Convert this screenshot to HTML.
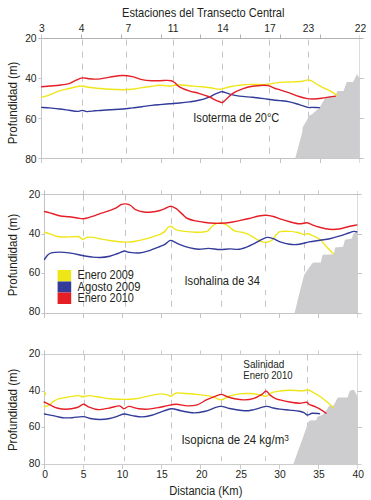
<!DOCTYPE html>
<html><head><meta charset="utf-8"><style>
html,body{margin:0;padding:0;background:#fff;width:371px;height:500px;overflow:hidden}
svg{display:block}
</style></head><body>
<svg width="371" height="500" viewBox="0 0 371 500">
<rect width="371" height="500" fill="#fff"/>
<g font-family='"Liberation Sans", sans-serif' fill="#231f20">
<line x1="38.5" y1="38.5" x2="363.5" y2="38.5" stroke="#b2b2b2" stroke-width="1"/>
<line x1="38.5" y1="158.5" x2="363.5" y2="158.5" stroke="#c2c4c4" stroke-width="1"/>
<line x1="41.5" y1="34.5" x2="41.5" y2="163.0" stroke="#c8c6c8" stroke-width="1"/>
<line x1="38.5" y1="78.50" x2="41.5" y2="78.50" stroke="#c8c6c8" stroke-width="1"/>
<line x1="359.5" y1="78.50" x2="364.0" y2="78.50" stroke="#c8c6c8" stroke-width="1"/>
<line x1="38.5" y1="118.50" x2="41.5" y2="118.50" stroke="#c8c6c8" stroke-width="1"/>
<line x1="359.5" y1="118.50" x2="364.0" y2="118.50" stroke="#c8c6c8" stroke-width="1"/>
<line x1="81.50" y1="34.5" x2="81.50" y2="38.5" stroke="#b2b2b2" stroke-width="1"/>
<line x1="81.50" y1="158.5" x2="81.50" y2="163.0" stroke="#c2c4c4" stroke-width="1"/>
<line x1="121.50" y1="34.5" x2="121.50" y2="38.5" stroke="#b2b2b2" stroke-width="1"/>
<line x1="121.50" y1="158.5" x2="121.50" y2="163.0" stroke="#c2c4c4" stroke-width="1"/>
<line x1="161.50" y1="34.5" x2="161.50" y2="38.5" stroke="#b2b2b2" stroke-width="1"/>
<line x1="161.50" y1="158.5" x2="161.50" y2="163.0" stroke="#c2c4c4" stroke-width="1"/>
<line x1="200.50" y1="34.5" x2="200.50" y2="38.5" stroke="#b2b2b2" stroke-width="1"/>
<line x1="200.50" y1="158.5" x2="200.50" y2="163.0" stroke="#c2c4c4" stroke-width="1"/>
<line x1="240.50" y1="34.5" x2="240.50" y2="38.5" stroke="#b2b2b2" stroke-width="1"/>
<line x1="240.50" y1="158.5" x2="240.50" y2="163.0" stroke="#c2c4c4" stroke-width="1"/>
<line x1="280.50" y1="34.5" x2="280.50" y2="38.5" stroke="#b2b2b2" stroke-width="1"/>
<line x1="280.50" y1="158.5" x2="280.50" y2="163.0" stroke="#c2c4c4" stroke-width="1"/>
<line x1="320.50" y1="34.5" x2="320.50" y2="38.5" stroke="#b2b2b2" stroke-width="1"/>
<line x1="320.50" y1="158.5" x2="320.50" y2="163.0" stroke="#c2c4c4" stroke-width="1"/>
<line x1="41.5" y1="194.5" x2="361.5" y2="194.5" stroke="#c4c6c6" stroke-width="1"/>
<line x1="41.5" y1="313.5" x2="361.5" y2="313.5" stroke="#c4c4c4" stroke-width="1"/>
<line x1="44.5" y1="190.5" x2="44.5" y2="318.0" stroke="#c4c2c4" stroke-width="1"/>
<line x1="41.5" y1="234.50" x2="44.5" y2="234.50" stroke="#c4c2c4" stroke-width="1"/>
<line x1="357.5" y1="234.50" x2="362.0" y2="234.50" stroke="#c4c2c4" stroke-width="1"/>
<line x1="41.5" y1="273.50" x2="44.5" y2="273.50" stroke="#c4c2c4" stroke-width="1"/>
<line x1="357.5" y1="273.50" x2="362.0" y2="273.50" stroke="#c4c2c4" stroke-width="1"/>
<line x1="83.50" y1="190.5" x2="83.50" y2="194.5" stroke="#c4c6c6" stroke-width="1"/>
<line x1="83.50" y1="313.5" x2="83.50" y2="318.0" stroke="#c4c4c4" stroke-width="1"/>
<line x1="122.50" y1="190.5" x2="122.50" y2="194.5" stroke="#c4c6c6" stroke-width="1"/>
<line x1="122.50" y1="313.5" x2="122.50" y2="318.0" stroke="#c4c4c4" stroke-width="1"/>
<line x1="161.50" y1="190.5" x2="161.50" y2="194.5" stroke="#c4c6c6" stroke-width="1"/>
<line x1="161.50" y1="313.5" x2="161.50" y2="318.0" stroke="#c4c4c4" stroke-width="1"/>
<line x1="200.50" y1="190.5" x2="200.50" y2="194.5" stroke="#c4c6c6" stroke-width="1"/>
<line x1="200.50" y1="313.5" x2="200.50" y2="318.0" stroke="#c4c4c4" stroke-width="1"/>
<line x1="240.50" y1="190.5" x2="240.50" y2="194.5" stroke="#c4c6c6" stroke-width="1"/>
<line x1="240.50" y1="313.5" x2="240.50" y2="318.0" stroke="#c4c4c4" stroke-width="1"/>
<line x1="279.50" y1="190.5" x2="279.50" y2="194.5" stroke="#c4c6c6" stroke-width="1"/>
<line x1="279.50" y1="313.5" x2="279.50" y2="318.0" stroke="#c4c4c4" stroke-width="1"/>
<line x1="318.50" y1="190.5" x2="318.50" y2="194.5" stroke="#c4c6c6" stroke-width="1"/>
<line x1="318.50" y1="313.5" x2="318.50" y2="318.0" stroke="#c4c4c4" stroke-width="1"/>
<line x1="41.5" y1="354.5" x2="361.5" y2="354.5" stroke="#cacccc" stroke-width="1"/>
<line x1="41.5" y1="464.5" x2="361.5" y2="464.5" stroke="#cccccc" stroke-width="1"/>
<line x1="44.5" y1="350.5" x2="44.5" y2="469.0" stroke="#c4c6c6" stroke-width="1"/>
<line x1="41.5" y1="391.50" x2="44.5" y2="391.50" stroke="#c4c6c6" stroke-width="1"/>
<line x1="357.5" y1="391.50" x2="362.0" y2="391.50" stroke="#c4c6c6" stroke-width="1"/>
<line x1="41.5" y1="427.50" x2="44.5" y2="427.50" stroke="#c4c6c6" stroke-width="1"/>
<line x1="357.5" y1="427.50" x2="362.0" y2="427.50" stroke="#c4c6c6" stroke-width="1"/>
<line x1="83.50" y1="350.5" x2="83.50" y2="354.5" stroke="#cacccc" stroke-width="1"/>
<line x1="83.50" y1="464.5" x2="83.50" y2="469.0" stroke="#cccccc" stroke-width="1"/>
<line x1="122.50" y1="350.5" x2="122.50" y2="354.5" stroke="#cacccc" stroke-width="1"/>
<line x1="122.50" y1="464.5" x2="122.50" y2="469.0" stroke="#cccccc" stroke-width="1"/>
<line x1="161.50" y1="350.5" x2="161.50" y2="354.5" stroke="#cacccc" stroke-width="1"/>
<line x1="161.50" y1="464.5" x2="161.50" y2="469.0" stroke="#cccccc" stroke-width="1"/>
<line x1="200.50" y1="350.5" x2="200.50" y2="354.5" stroke="#cacccc" stroke-width="1"/>
<line x1="200.50" y1="464.5" x2="200.50" y2="469.0" stroke="#cccccc" stroke-width="1"/>
<line x1="240.50" y1="350.5" x2="240.50" y2="354.5" stroke="#cacccc" stroke-width="1"/>
<line x1="240.50" y1="464.5" x2="240.50" y2="469.0" stroke="#cccccc" stroke-width="1"/>
<line x1="279.50" y1="350.5" x2="279.50" y2="354.5" stroke="#cacccc" stroke-width="1"/>
<line x1="279.50" y1="464.5" x2="279.50" y2="469.0" stroke="#cccccc" stroke-width="1"/>
<line x1="318.50" y1="350.5" x2="318.50" y2="354.5" stroke="#cacccc" stroke-width="1"/>
<line x1="318.50" y1="464.5" x2="318.50" y2="469.0" stroke="#cccccc" stroke-width="1"/>
<line x1="82.5" y1="39.6" x2="82.5" y2="153.7" stroke="#c4c4c8" stroke-width="1" stroke-dasharray="6 6"/>
<line x1="126.5" y1="39.6" x2="126.5" y2="153.7" stroke="#c4c4c8" stroke-width="1" stroke-dasharray="6 6"/>
<line x1="173.5" y1="39.6" x2="173.5" y2="153.7" stroke="#c4c4c8" stroke-width="1" stroke-dasharray="6 6"/>
<line x1="222.5" y1="39.6" x2="222.5" y2="153.7" stroke="#c4c4c8" stroke-width="1" stroke-dasharray="6 6"/>
<line x1="269.5" y1="39.6" x2="269.5" y2="153.7" stroke="#c4c4c8" stroke-width="1" stroke-dasharray="6 6"/>
<line x1="308.5" y1="39.6" x2="308.5" y2="153.7" stroke="#c4c4c8" stroke-width="1" stroke-dasharray="6 6"/>
<line x1="83.5" y1="194.6" x2="83.5" y2="307.0" stroke="#c4c4c8" stroke-width="1" stroke-dasharray="6 5.8"/>
<line x1="125.5" y1="194.6" x2="125.5" y2="307.0" stroke="#c4c4c8" stroke-width="1" stroke-dasharray="6 5.8"/>
<line x1="171.5" y1="194.6" x2="171.5" y2="307.0" stroke="#c4c4c8" stroke-width="1" stroke-dasharray="6 5.8"/>
<line x1="221.5" y1="194.6" x2="221.5" y2="307.0" stroke="#c4c4c8" stroke-width="1" stroke-dasharray="6 5.8"/>
<line x1="265.5" y1="194.6" x2="265.5" y2="307.0" stroke="#c4c4c8" stroke-width="1" stroke-dasharray="6 5.8"/>
<line x1="304.5" y1="194.6" x2="304.5" y2="307.0" stroke="#c4c4c8" stroke-width="1" stroke-dasharray="6 5.8"/>
<line x1="84.5" y1="354.6" x2="84.5" y2="461.0" stroke="#c4c4c8" stroke-width="1" stroke-dasharray="6 5.3"/>
<line x1="124.5" y1="354.6" x2="124.5" y2="461.0" stroke="#c4c4c8" stroke-width="1" stroke-dasharray="6 5.3"/>
<line x1="171.5" y1="354.6" x2="171.5" y2="461.0" stroke="#c4c4c8" stroke-width="1" stroke-dasharray="6 5.3"/>
<line x1="221.5" y1="354.6" x2="221.5" y2="461.0" stroke="#c4c4c8" stroke-width="1" stroke-dasharray="6 5.3"/>
<line x1="265.5" y1="354.6" x2="265.5" y2="461.0" stroke="#c4c4c8" stroke-width="1" stroke-dasharray="6 5.3"/>
<line x1="307.5" y1="354.6" x2="307.5" y2="461.0" stroke="#c4c4c8" stroke-width="1" stroke-dasharray="6 5.3"/>
<rect x="191" y="106" width="91" height="20" fill="#fff"/>
<rect x="182" y="272.5" width="86" height="17.5" fill="#fff"/>
<rect x="180" y="431" width="110" height="21.5" fill="#fff"/>
<polygon points="295.2,158.5 302.2,132.5 302.8,127.1 306.6,120.7 309.2,115.6 312,114.2 319.5,107.7 324.9,98.3 329.2,96.2 335.6,95.6 337.4,90.9 343.6,90.9 346.8,82.0 353.2,82.0 357.0,73.9 359.5,78.6 359.5,158.5" fill="#cdcdcf"/>
<polygon points="294.5,313.5 299.2,294 302.3,282.1 304.2,274.8 306.6,271.2 312.1,263.6 313.8,262.5 320.8,262.5 322.6,254.8 333.8,254.2 335.2,247.4 343.1,246.8 345.0,239.8 351.8,238.6 353.5,233.4 356,232.5 357.5,232.5 357.5,313.5" fill="#cdcdcf"/>
<polygon points="293.2,464.5 308.7,421.4 309.8,420.6 316.3,420.3 317.3,417.0 322.7,414.6 327.0,409.5 329.2,405.8 333.5,405.8 337.8,397.6 347.5,397.6 349.7,391.2 352.3,389.7 354.4,390.5 357.5,396.6 357.5,464.5" fill="#cdcdcf"/>
<line x1="359.5" y1="35.5" x2="359.5" y2="163.0" stroke="#b8b8bc" stroke-width="1" stroke-dasharray="1 1"/>
<line x1="357.5" y1="191.5" x2="357.5" y2="318.0" stroke="#b8b8bc" stroke-width="1" stroke-dasharray="1 1"/>
<line x1="357.5" y1="351.5" x2="357.5" y2="469.0" stroke="#b8b8bc" stroke-width="1" stroke-dasharray="1 1"/>
<path d="M41.6,97.3 C42.95,96.90 46.73,95.97 49.7,94.9 C52.67,93.83 56.17,91.97 59.4,90.9 C62.63,89.83 66.13,89.23 69.1,88.5 C72.07,87.77 74.98,86.92 77.2,86.5 C79.42,86.08 80.52,85.88 82.4,86 C84.28,86.12 85.57,86.78 88.5,87.2 C91.43,87.62 96.47,88.15 100,88.5 C103.53,88.85 105.93,89.10 109.7,89.3 C113.47,89.50 118.83,89.70 122.6,89.7 C126.37,89.70 129.07,89.65 132.3,89.3 C135.53,88.95 138.75,88.10 142,87.6 C145.25,87.10 148.80,86.70 151.8,86.3 C154.80,85.90 157.28,85.25 160,85.2 C162.72,85.15 165.95,85.92 168.1,86 C170.25,86.08 171.28,85.92 172.9,85.7 C174.52,85.48 175.10,84.70 177.8,84.7 C180.50,84.70 185.07,85.35 189.1,85.7 C193.13,86.05 198.22,86.42 202,86.8 C205.78,87.18 208.80,87.58 211.8,88 C214.80,88.42 217.02,89.50 220,89.3 C222.98,89.10 226.47,87.48 229.7,86.8 C232.93,86.12 235.63,85.60 239.4,85.2 C243.17,84.80 248.25,84.48 252.3,84.4 C256.35,84.32 260.45,84.83 263.7,84.7 C266.95,84.57 269.08,83.98 271.8,83.6 C274.52,83.22 277.07,82.67 280,82.4 C282.93,82.13 285.68,82.20 289.4,82 C293.12,81.80 299.20,81.55 302.3,81.2 C305.40,80.85 306.38,79.90 308,79.9 C309.62,79.90 310.25,80.32 312,81.2 C313.75,82.08 316.33,83.98 318.5,85.2 C320.67,86.42 323.08,87.55 325,88.5 C326.92,89.45 328.00,89.78 330,90.9 C332.00,92.02 335.83,94.48 337,95.2" fill="none" stroke="#efe61a" stroke-width="1.4" stroke-linejoin="round" stroke-linecap="round"/>
<path d="M41.6,107.4 C42.95,107.48 46.73,107.63 49.7,107.9 C52.67,108.17 56.17,108.60 59.4,109 C62.63,109.40 66.13,109.90 69.1,110.3 C72.07,110.70 74.98,111.38 77.2,111.4 C79.42,111.42 80.78,110.37 82.4,110.4 C84.02,110.43 84.80,111.53 86.9,111.6 C89.00,111.67 92.82,110.98 95,110.8 C97.18,110.62 97.55,110.67 100,110.5 C102.45,110.33 105.93,110.05 109.7,109.8 C113.47,109.55 118.83,109.32 122.6,109 C126.37,108.68 129.07,108.28 132.3,107.9 C135.53,107.52 138.75,107.12 142,106.7 C145.25,106.28 148.80,105.75 151.8,105.4 C154.80,105.05 157.02,104.87 160,104.6 C162.98,104.33 166.47,104.07 169.7,103.8 C172.93,103.53 176.17,103.32 179.4,103 C182.63,102.68 185.87,102.35 189.1,101.9 C192.33,101.45 195.57,101.07 198.8,100.3 C202.03,99.53 205.80,98.33 208.5,97.3 C211.20,96.27 213.08,94.95 215,94.1 C216.92,93.25 218.77,92.60 220,92.2 C221.23,91.80 220.78,91.38 222.4,91.7 C224.02,92.02 226.87,93.37 229.7,94.1 C232.53,94.83 235.63,95.57 239.4,96.1 C243.17,96.63 248.25,96.88 252.3,97.3 C256.35,97.72 260.45,98.18 263.7,98.6 C266.95,99.02 269.08,99.47 271.8,99.8 C274.52,100.13 277.07,100.25 280,100.6 C282.93,100.95 286.22,101.23 289.4,101.9 C292.58,102.57 296.00,103.68 299.1,104.6 C302.20,105.52 305.85,106.93 308,107.4 C310.15,107.87 310.08,107.37 312,107.4 C313.92,107.43 318.25,107.57 319.5,107.6" fill="none" stroke="#323b99" stroke-width="1.4" stroke-linejoin="round" stroke-linecap="round"/>
<path d="M41.6,86.8 C42.95,86.67 46.73,86.27 49.7,86 C52.67,85.73 56.17,85.60 59.4,85.2 C62.63,84.80 66.40,84.40 69.1,83.6 C71.80,82.80 73.38,81.35 75.6,80.4 C77.82,79.45 80.25,78.18 82.4,77.9 C84.55,77.62 86.40,78.50 88.5,78.7 C90.60,78.90 93.08,79.07 95,79.1 C96.92,79.13 97.55,79.23 100,78.9 C102.45,78.57 105.93,77.67 109.7,77.1 C113.47,76.53 118.83,75.58 122.6,75.5 C126.37,75.42 129.07,75.92 132.3,76.6 C135.53,77.28 138.75,78.92 142,79.6 C145.25,80.28 148.80,80.52 151.8,80.7 C154.80,80.88 157.55,80.75 160,80.7 C162.45,80.65 164.62,80.40 166.5,80.4 C168.38,80.40 169.95,80.35 171.3,80.7 C172.65,81.05 173.25,81.48 174.6,82.5 C175.95,83.52 176.98,85.40 179.4,86.8 C181.82,88.20 185.87,89.82 189.1,90.9 C192.33,91.98 195.57,92.37 198.8,93.3 C202.03,94.23 205.80,95.42 208.5,96.5 C211.20,97.58 213.08,98.92 215,99.8 C216.92,100.68 218.77,101.35 220,101.8 C221.23,102.25 221.32,102.97 222.4,102.5 C223.48,102.03 224.75,100.53 226.5,99 C228.25,97.47 230.22,94.98 232.9,93.3 C235.58,91.62 239.37,90.07 242.6,88.9 C245.83,87.73 248.78,86.92 252.3,86.3 C255.82,85.68 261.00,85.30 263.7,85.2 C266.40,85.10 266.62,85.15 268.5,85.7 C270.38,86.25 273.08,87.82 275,88.5 C276.92,89.18 277.60,89.08 280,89.8 C282.40,90.52 286.22,91.68 289.4,92.8 C292.58,93.92 296.13,95.53 299.1,96.5 C302.07,97.47 304.77,98.18 307.2,98.6 C309.63,99.02 311.27,99.07 313.7,99 C316.13,98.93 319.08,98.55 321.8,98.2 C324.52,97.85 327.77,97.22 330,96.9 C332.23,96.58 334.33,96.40 335.2,96.3" fill="none" stroke="#e61e26" stroke-width="1.4" stroke-linejoin="round" stroke-linecap="round"/>
<path d="M44.5,232.2 C45.37,232.47 47.75,233.13 49.7,233.8 C51.65,234.47 54.05,235.67 56.2,236.2 C58.35,236.73 59.92,236.92 62.6,237 C65.28,237.08 69.60,236.75 72.3,236.7 C75.00,236.65 77.03,236.23 78.8,236.7 C80.57,237.17 81.55,239.38 82.9,239.5 C84.25,239.62 85.15,237.75 86.9,237.4 C88.65,237.05 91.22,237.17 93.4,237.4 C95.58,237.63 97.28,238.28 100,238.8 C102.72,239.32 105.65,239.95 109.7,240.5 C113.75,241.05 119.98,241.98 124.3,242.1 C128.62,242.22 131.57,241.87 135.6,241.2 C139.63,240.53 144.43,239.25 148.5,238.1 C152.57,236.95 157.27,235.42 160,234.3 C162.73,233.18 163.55,232.57 164.9,231.4 C166.25,230.23 167.03,228.12 168.1,227.3 C169.17,226.48 169.95,226.08 171.3,226.5 C172.65,226.92 174.03,228.98 176.2,229.8 C178.37,230.62 181.07,231.00 184.3,231.4 C187.53,231.80 191.83,232.20 195.6,232.2 C199.37,232.20 204.20,232.35 206.9,231.4 C209.60,230.45 210.18,227.85 211.8,226.5 C213.42,225.15 215.23,223.88 216.6,223.3 C217.97,222.72 218.62,222.87 220,223 C221.38,223.13 223.28,223.38 224.9,224.1 C226.52,224.82 228.08,226.17 229.7,227.3 C231.32,228.43 232.45,230.03 234.6,230.9 C236.75,231.77 240.18,231.88 242.6,232.5 C245.02,233.12 246.93,233.57 249.1,234.6 C251.27,235.63 253.45,237.48 255.6,238.7 C257.75,239.92 260.12,241.32 262,241.9 C263.88,242.48 265.27,242.47 266.9,242.2 C268.53,241.93 270.18,241.57 271.8,240.3 C273.42,239.03 275.23,236.05 276.6,234.6 C277.97,233.15 277.82,232.13 280,231.6 C282.18,231.07 286.73,231.25 289.7,231.4 C292.67,231.55 295.37,231.97 297.8,232.5 C300.23,233.03 302.68,234.43 304.3,234.6 C305.92,234.77 306.17,233.37 307.5,233.5 C308.83,233.63 310.15,234.35 312.3,235.4 C314.45,236.45 318.03,237.90 320.4,239.8 C322.77,241.70 324.32,244.47 326.5,246.8 C328.68,249.13 332.33,252.63 333.5,253.8" fill="none" stroke="#efe61a" stroke-width="1.4" stroke-linejoin="round" stroke-linecap="round"/>
<path d="M44.5,259.4 C44.97,258.73 46.17,256.48 47.3,255.4 C48.43,254.32 49.28,253.45 51.3,252.9 C53.32,252.35 56.43,252.10 59.4,252.1 C62.37,252.10 65.12,252.30 69.1,252.9 C73.08,253.50 79.52,255.02 83.3,255.7 C87.08,256.38 89.02,256.70 91.8,257 C94.58,257.30 97.02,257.63 100,257.5 C102.98,257.37 106.73,256.87 109.7,256.2 C112.67,255.53 115.37,254.37 117.8,253.5 C120.23,252.63 122.42,251.20 124.3,251 C126.18,250.80 126.68,251.97 129.1,252.3 C131.52,252.63 135.57,253.23 138.8,253 C142.03,252.77 144.97,251.98 148.5,250.9 C152.03,249.82 157.27,247.60 160,246.5 C162.73,245.40 163.28,245.28 164.9,244.3 C166.52,243.32 168.37,241.13 169.7,240.6 C171.03,240.07 171.28,240.48 172.9,241.1 C174.52,241.72 176.70,243.22 179.4,244.3 C182.10,245.38 185.87,246.78 189.1,247.6 C192.33,248.42 195.57,249.07 198.8,249.2 C202.03,249.33 204.97,248.35 208.5,248.4 C212.03,248.45 216.47,249.42 220,249.5 C223.53,249.58 226.47,248.95 229.7,248.9 C232.93,248.85 236.17,249.68 239.4,249.2 C242.63,248.72 245.87,247.35 249.1,246 C252.33,244.65 255.83,242.53 258.8,241.1 C261.77,239.67 264.47,237.80 266.9,237.4 C269.33,237.00 271.22,237.95 273.4,238.7 C275.58,239.45 277.28,240.97 280,241.9 C282.72,242.83 286.47,243.90 289.7,244.3 C292.93,244.70 296.17,244.70 299.4,244.3 C302.63,243.90 305.67,242.58 309.1,241.9 C312.53,241.22 316.57,240.73 320,240.2 C323.43,239.67 326.52,239.37 329.7,238.7 C332.88,238.03 335.92,237.15 339.1,236.2 C342.28,235.25 346.37,233.80 348.8,233 C351.23,232.20 352.35,231.58 353.7,231.4 C355.05,231.22 356.37,231.82 356.9,231.9" fill="none" stroke="#323b99" stroke-width="1.4" stroke-linejoin="round" stroke-linecap="round"/>
<path d="M44.5,211.5 C45.37,211.72 47.22,212.10 49.7,212.8 C52.18,213.50 56.17,215.03 59.4,215.7 C62.63,216.37 66.13,216.42 69.1,216.8 C72.07,217.18 74.83,217.67 77.2,218 C79.57,218.33 81.42,218.87 83.3,218.8 C85.18,218.73 86.55,218.12 88.5,217.6 C90.45,217.08 93.08,216.37 95,215.7 C96.92,215.03 97.82,214.35 100,213.6 C102.18,212.85 105.40,212.15 108.1,211.2 C110.80,210.25 114.05,208.98 116.2,207.9 C118.35,206.82 119.38,205.37 121,204.7 C122.62,204.03 124.28,203.77 125.9,203.9 C127.52,204.03 129.08,204.55 130.7,205.5 C132.32,206.45 133.43,208.52 135.6,209.6 C137.77,210.68 141.00,211.60 143.7,212 C146.40,212.40 149.08,212.25 151.8,212 C154.52,211.75 157.82,211.05 160,210.5 C162.18,209.95 163.15,209.40 164.9,208.7 C166.65,208.00 168.62,206.30 170.5,206.3 C172.38,206.30 174.18,207.35 176.2,208.7 C178.22,210.05 180.72,212.77 182.6,214.4 C184.48,216.03 185.33,217.42 187.5,218.5 C189.67,219.58 192.63,220.23 195.6,220.9 C198.57,221.57 202.07,222.10 205.3,222.5 C208.53,222.90 212.55,223.17 215,223.3 C217.45,223.43 217.55,223.43 220,223.3 C222.45,223.17 226.47,222.95 229.7,222.5 C232.93,222.05 236.17,221.27 239.4,220.6 C242.63,219.93 245.87,219.27 249.1,218.5 C252.33,217.73 255.97,216.55 258.8,216 C261.63,215.45 263.67,215.12 266.1,215.2 C268.53,215.28 271.08,215.88 273.4,216.5 C275.72,217.12 277.28,218.03 280,218.9 C282.72,219.77 286.47,220.88 289.7,221.7 C292.93,222.52 296.57,223.62 299.4,223.8 C302.23,223.98 304.55,222.62 306.7,222.8 C308.85,222.98 310.13,224.15 312.3,224.9 C314.47,225.65 316.85,226.57 319.7,227.3 C322.55,228.03 326.17,229.02 329.4,229.3 C332.63,229.58 335.87,229.47 339.1,229 C342.33,228.53 345.83,227.18 348.8,226.5 C351.77,225.82 355.55,225.17 356.9,224.9" fill="none" stroke="#e61e26" stroke-width="1.4" stroke-linejoin="round" stroke-linecap="round"/>
<path d="M44.1,406.8 C44.90,406.53 47.28,406.13 48.9,405.2 C50.52,404.27 52.05,402.28 53.8,401.2 C55.55,400.12 57.38,399.32 59.4,398.7 C61.42,398.08 62.93,398.02 65.9,397.5 C68.87,396.98 74.37,395.73 77.2,395.6 C80.03,395.47 81.02,396.70 82.9,396.7 C84.78,396.70 85.65,395.52 88.5,395.6 C91.35,395.68 96.47,396.67 100,397.2 C103.53,397.73 105.65,398.43 109.7,398.8 C113.75,399.17 119.98,399.40 124.3,399.4 C128.62,399.40 131.83,399.30 135.6,398.8 C139.37,398.30 142.83,397.22 146.9,396.4 C150.97,395.58 156.73,394.20 160,393.9 C163.27,393.60 164.62,394.22 166.5,394.6 C168.38,394.98 169.68,396.47 171.3,396.2 C172.92,395.93 173.77,393.45 176.2,393 C178.63,392.55 182.13,393.23 185.9,393.5 C189.67,393.77 195.03,394.20 198.8,394.6 C202.57,395.00 205.80,395.40 208.5,395.9 C211.20,396.40 212.83,396.93 215,397.6 C217.17,398.27 219.05,400.17 221.5,399.9 C223.95,399.63 226.72,397.00 229.7,396.0 C232.68,395.00 236.17,394.32 239.4,393.9 C242.63,393.48 245.87,393.38 249.1,393.5 C252.33,393.62 255.97,394.15 258.8,394.6 C261.63,395.05 263.93,396.53 266.1,396.2 C268.27,395.87 269.48,393.47 271.8,392.6 C274.12,391.73 277.02,391.40 280,391 C282.98,390.60 286.47,390.25 289.7,390.2 C292.93,390.15 296.97,390.62 299.4,390.7 C301.83,390.78 302.95,390.87 304.3,390.7 C305.65,390.53 306.17,389.52 307.5,389.7 C308.83,389.88 310.15,390.63 312.3,391.8 C314.45,392.97 317.70,394.80 320.4,396.7 C323.10,398.60 326.33,401.40 328.5,403.2 C330.67,405.00 332.58,406.78 333.4,407.5" fill="none" stroke="#efe61a" stroke-width="1.4" stroke-linejoin="round" stroke-linecap="round"/>
<path d="M44.5,414 C45.90,414.27 49.88,414.98 52.9,415.6 C55.92,416.22 59.37,417.35 62.6,417.7 C65.83,418.05 68.92,417.88 72.3,417.7 C75.68,417.52 79.65,416.42 82.9,416.6 C86.15,416.78 88.95,418.32 91.8,418.8 C94.65,419.28 97.02,419.55 100,419.5 C102.98,419.45 106.73,419.07 109.7,418.5 C112.67,417.93 115.37,416.85 117.8,416.1 C120.23,415.35 121.88,414.08 124.3,414 C126.72,413.92 129.35,415.12 132.3,415.6 C135.25,416.08 138.75,416.95 142,416.9 C145.25,416.85 148.80,416.05 151.8,415.3 C154.80,414.55 156.75,413.48 160,412.4 C163.25,411.32 167.80,409.07 171.3,408.8 C174.80,408.53 177.22,410.12 181,410.8 C184.78,411.48 189.95,412.83 194,412.9 C198.05,412.97 200.97,412.28 205.3,411.2 C209.63,410.12 215.93,406.85 220,406.4 C224.07,405.95 225.65,407.77 229.7,408.5 C233.75,409.23 240.25,410.62 244.3,410.8 C248.35,410.98 250.37,410.33 254,409.6 C257.63,408.87 262.87,406.67 266.1,406.4 C269.33,406.13 271.08,407.55 273.4,408 C275.72,408.45 277.28,408.75 280,409.1 C282.72,409.45 286.47,409.75 289.7,410.1 C292.93,410.45 296.97,410.73 299.4,411.2 C301.83,411.67 302.95,412.27 304.3,412.9 C305.65,413.53 306.17,414.93 307.5,415 C308.83,415.07 310.28,413.52 312.3,413.3 C314.32,413.08 318.38,413.63 319.6,413.7" fill="none" stroke="#323b99" stroke-width="1.4" stroke-linejoin="round" stroke-linecap="round"/>
<path d="M44.1,402 C45.18,402.53 48.45,404.20 50.6,405.2 C52.75,406.20 54.43,407.32 57,408 C59.57,408.68 62.63,409.38 66,409.3 C69.37,409.22 74.32,408.33 77.2,407.5 C80.08,406.67 81.42,404.40 83.3,404.3 C85.18,404.20 86.55,406.10 88.5,406.9 C90.45,407.70 93.08,408.65 95,409.1 C96.92,409.55 97.55,409.78 100,409.6 C102.45,409.42 106.47,408.62 109.7,408 C112.93,407.38 117.03,405.77 119.4,405.9 C121.77,406.03 122.28,408.72 123.9,408.8 C125.52,408.88 126.62,406.40 129.1,406.4 C131.58,406.40 135.57,408.35 138.8,408.8 C142.03,409.25 144.97,409.35 148.5,409.1 C152.03,408.85 157.00,407.83 160,407.3 C163.00,406.77 163.80,406.40 166.5,405.9 C169.20,405.40 172.70,404.30 176.2,404.3 C179.70,404.30 184.00,405.82 187.5,405.9 C191.00,405.98 193.97,405.83 197.2,404.8 C200.43,403.77 203.93,401.10 206.9,399.7 C209.87,398.30 212.57,397.28 215,396.4 C217.43,395.52 219.58,394.40 221.5,394.4 C223.42,394.40 224.32,395.67 226.5,396.4 C228.68,397.13 231.63,398.22 234.6,398.8 C237.57,399.38 241.07,399.98 244.3,399.9 C247.53,399.82 251.05,399.23 254,398.3 C256.95,397.37 259.98,395.52 262,394.3 C264.02,393.08 264.75,390.87 266.1,391 C267.45,391.13 268.62,393.88 270.1,395.1 C271.58,396.32 273.35,397.50 275,398.3 C276.65,399.10 277.55,399.28 280,399.9 C282.45,400.52 286.47,401.45 289.7,402 C292.93,402.55 296.57,403.15 299.4,403.2 C302.23,403.25 305.08,402.12 306.7,402.3 C308.32,402.48 307.62,403.53 309.1,404.3 C310.58,405.07 313.45,405.88 315.6,406.9 C317.75,407.92 320.25,409.33 322,410.4 C323.75,411.47 325.42,412.82 326.1,413.3" fill="none" stroke="#e61e26" stroke-width="1.4" stroke-linejoin="round" stroke-linecap="round"/>
<polyline points="44.6,392.4 45.6,393.4 45.0,394.8" fill="none" stroke="#efe61a" stroke-width="1.3" stroke-linejoin="round" stroke-linecap="round"/>
<text x="122.0" y="17.1" font-size="12.8" text-anchor="start" textLength="162.5" lengthAdjust="spacingAndGlyphs">Estaciones del Transecto Central</text>
<text x="41.9" y="31.9" font-size="10.3" text-anchor="middle">3</text>
<text x="81.6" y="31.9" font-size="10.3" text-anchor="middle">4</text>
<text x="128.4" y="31.9" font-size="10.3" text-anchor="middle">7</text>
<text x="173.2" y="31.9" font-size="10.3" text-anchor="middle">11</text>
<text x="222.9" y="31.9" font-size="10.3" text-anchor="middle">14</text>
<text x="270.1" y="31.9" font-size="10.3" text-anchor="middle">17</text>
<text x="308.4" y="31.9" font-size="10.3" text-anchor="middle">23</text>
<text x="360.6" y="31.9" font-size="10.3" text-anchor="middle">22</text>
<text x="36.6" y="42.1" font-size="10.3" text-anchor="end">20</text>
<text x="36.6" y="82.0" font-size="10.3" text-anchor="end">40</text>
<text x="36.6" y="123.2" font-size="10.3" text-anchor="end">60</text>
<text x="36.6" y="162.9" font-size="10.3" text-anchor="end">80</text>
<text x="40.3" y="197.9" font-size="10.3" text-anchor="end">20</text>
<text x="40.3" y="236.8" font-size="10.3" text-anchor="end">40</text>
<text x="40.3" y="275.8" font-size="10.3" text-anchor="end">60</text>
<text x="40.3" y="314.8" font-size="10.3" text-anchor="end">80</text>
<text x="40.3" y="357.0" font-size="10.3" text-anchor="end">20</text>
<text x="40.3" y="393.8" font-size="10.3" text-anchor="end">40</text>
<text x="40.3" y="429.7" font-size="10.3" text-anchor="end">60</text>
<text x="40.3" y="467.0" font-size="10.3" text-anchor="end">80</text>
<text transform="translate(17.1,102.9) rotate(-90)" x="0" y="0" font-size="12.3" text-anchor="middle" textLength="82.5" lengthAdjust="spacingAndGlyphs">Profundidad (m)</text>
<text transform="translate(17.1,255.0) rotate(-90)" x="0" y="0" font-size="12.3" text-anchor="middle" textLength="82.5" lengthAdjust="spacingAndGlyphs">Profundidad (m)</text>
<text transform="translate(17.1,409.8) rotate(-90)" x="0" y="0" font-size="12.3" text-anchor="middle" textLength="82.5" lengthAdjust="spacingAndGlyphs">Profundidad (m)</text>
<text x="193.3" y="121.8" font-size="12.3" text-anchor="start" textLength="86" lengthAdjust="spacingAndGlyphs">Isoterma de 20°C</text>
<rect x="57.6" y="270" width="13.6" height="11.5" fill="#efe61a"/>
<rect x="57.6" y="281.5" width="13.6" height="11" fill="#323b99"/>
<rect x="57.6" y="292.5" width="13.6" height="11.5" fill="#e61e26"/>
<text x="77.5" y="278.9" font-size="12.6" text-anchor="start" textLength="56.3" lengthAdjust="spacingAndGlyphs">Enero 2009</text>
<text x="77.5" y="290.5" font-size="12.6" text-anchor="start" textLength="63.0" lengthAdjust="spacingAndGlyphs">Agosto 2009</text>
<text x="77.5" y="302.4" font-size="12.6" text-anchor="start" textLength="56.3" lengthAdjust="spacingAndGlyphs">Enero 2010</text>
<text x="184.5" y="284.9" font-size="12.3" text-anchor="start" textLength="75.4" lengthAdjust="spacingAndGlyphs">Isohalina de 34</text>
<text x="243.3" y="367.9" font-size="10.4" text-anchor="start" textLength="41.1" lengthAdjust="spacingAndGlyphs">Salinidad</text>
<text x="243.3" y="378.7" font-size="10.4" text-anchor="start" textLength="49.2" lengthAdjust="spacingAndGlyphs">Enero 2010</text>
<text x="181.4" y="443.6" font-size="12" textLength="102.9" lengthAdjust="spacingAndGlyphs">Isopicna de 24 kg/m</text>
<text x="284.2" y="440.8" font-size="8.3" text-anchor="start">3</text>
<text x="45.2" y="478.3" font-size="10.3" text-anchor="middle">0</text>
<text x="83.5" y="478.3" font-size="10.3" text-anchor="middle">5</text>
<text x="122.6" y="478.3" font-size="10.3" text-anchor="middle">10</text>
<text x="162.1" y="478.3" font-size="10.3" text-anchor="middle">15</text>
<text x="201.7" y="478.3" font-size="10.3" text-anchor="middle">20</text>
<text x="241.3" y="478.3" font-size="10.3" text-anchor="middle">25</text>
<text x="280.0" y="478.3" font-size="10.3" text-anchor="middle">30</text>
<text x="319.1" y="478.3" font-size="10.3" text-anchor="middle">35</text>
<text x="358.2" y="478.3" font-size="10.3" text-anchor="middle">40</text>
<text x="169.2" y="494.5" font-size="12.3" text-anchor="start" textLength="73.2" lengthAdjust="spacingAndGlyphs">Distancia (Km)</text>
</g></svg>
</body></html>
